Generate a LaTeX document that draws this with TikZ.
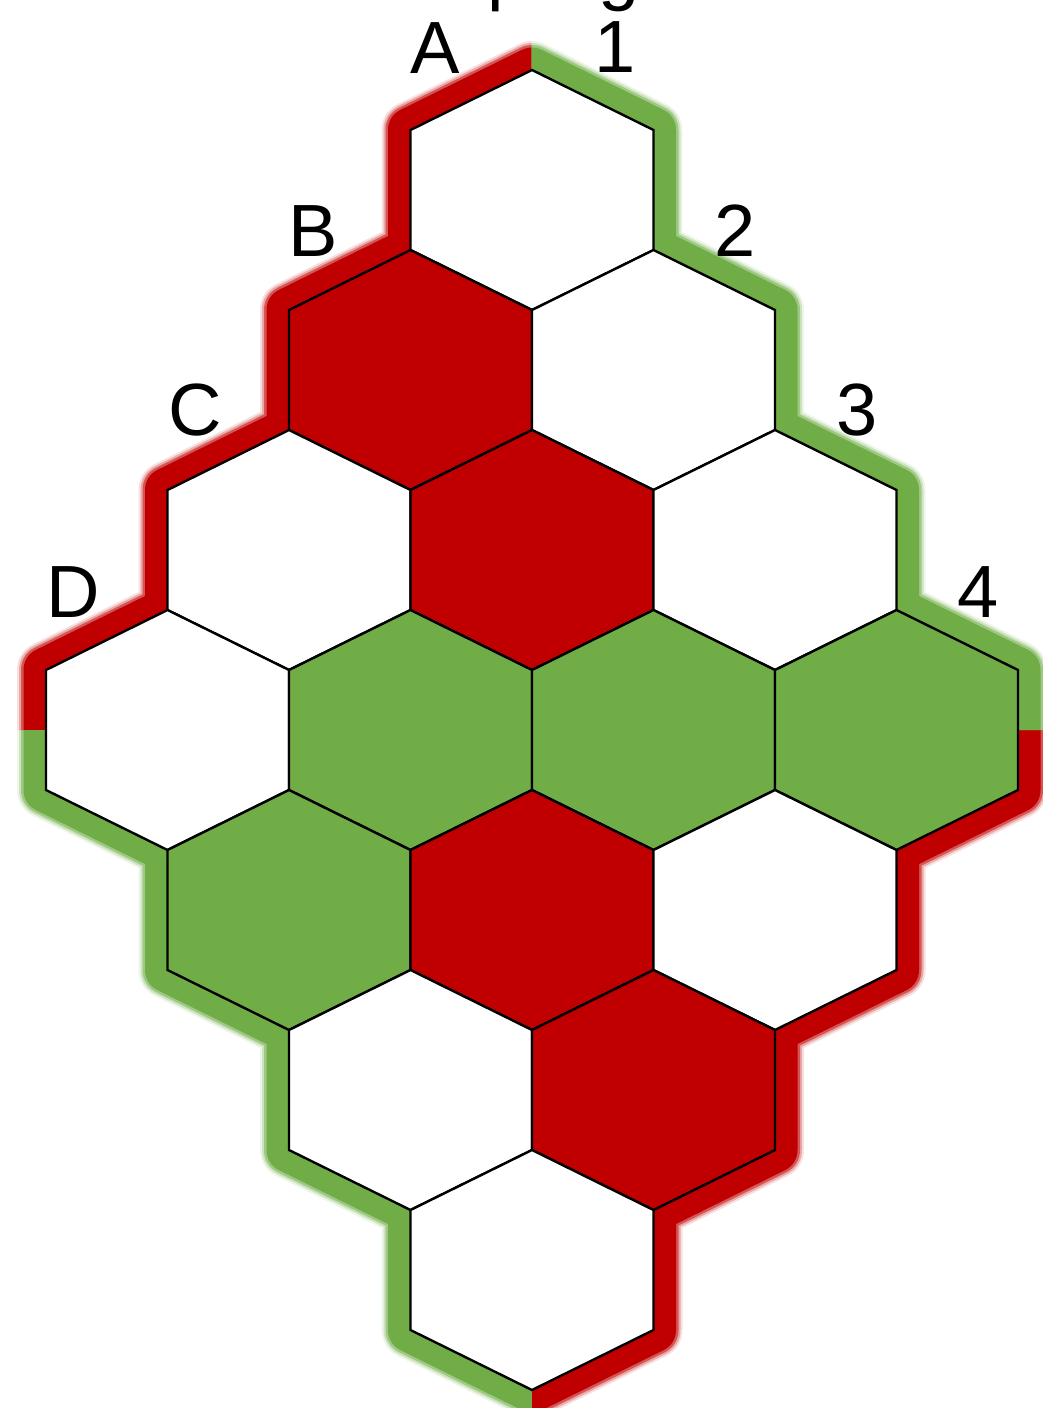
\documentclass[tikz,border=0pt]{standalone}
\usepackage{fontspec}
\setmainfont{Liberation Sans}
\definecolor{hexred}{RGB}{192,0,0}
\definecolor{hexgreen}{RGB}{112,173,71}
\newcommand\boardoutline{(532,70) -- (653.5,130) -- (653.5,250) -- (775,310) -- (775,430) -- (896.5,490) -- (896.5,610) -- (1018,670) -- (1018,790) -- (896.5,850) -- (896.5,970) -- (775,1030) -- (775,1150) -- (653.5,1210) -- (653.5,1330) -- (532,1390) -- (410.5,1330) -- (410.5,1210) -- (289,1150) -- (289,1030) -- (167.5,970) -- (167.5,850) -- (46,790) -- (46,670) -- (167.5,610) -- (167.5,490) -- (289,430) -- (289,310) -- (410.5,250) -- (410.5,130) -- cycle}
\newcommand\bandlayers[1]{%
  \draw[#1, line width=58, opacity=0.12, line join=round] \boardoutline;
  \draw[#1, line width=54, opacity=0.25, line join=round] \boardoutline;
  \draw[#1, line width=50, opacity=0.5, line join=round] \boardoutline;
  \draw[#1, line width=45, line join=round] \boardoutline;}
\newcommand\hexcell[4]{%
  \coordinate (#1) at ({532+(#3-#2)*121.5},{190+(#2+#3)*180});
  \path[hexedge, fill=#4] (#1) ++(0,-120) -- ++(121.5,60) -- ++(0,120) -- ++(-121.5,60) -- ++(-121.5,-60) -- ++(0,-120) -- cycle;}
\begin{document}
\begin{tikzpicture}[x=1pt,y=-1pt,
  hexedge/.style={draw=black, line width=2.4, line join=miter},
  lbl/.style={font=\fontsize{74}{80}\selectfont, inner sep=0pt}]
\useasboundingbox (0,0) rectangle (1043,1408);
\clip (0,0) rectangle (1043,1408);
% cut-off title fragments
\node[lbl, anchor=base west] (titlep) at (487,-3) {p};
\node[lbl, anchor=base west] (titleg) at (598,-3) {g};
% edge bands
\begin{scope}
  \clip (0,0) rectangle (531.5,730) (531.5,730) rectangle (1043,1408);
  \bandlayers{hexred}
\end{scope}
\begin{scope}
  \clip (531.5,0) rectangle (1043,730) (0,730) rectangle (531.5,1408);
  \bandlayers{hexgreen}
\end{scope}
% cells
\hexcell{a1}{0}{0}{white}
\hexcell{b1}{1}{0}{hexred}
\hexcell{a2}{0}{1}{white}
\hexcell{c1}{2}{0}{white}
\hexcell{b2}{1}{1}{hexred}
\hexcell{a3}{0}{2}{white}
\hexcell{d1}{3}{0}{white}
\hexcell{c2}{2}{1}{hexgreen}
\hexcell{b3}{1}{2}{hexgreen}
\hexcell{a4}{0}{3}{hexgreen}
\hexcell{d2}{3}{1}{hexgreen}
\hexcell{c3}{2}{2}{hexred}
\hexcell{b4}{1}{3}{white}
\hexcell{d3}{3}{2}{white}
\hexcell{c4}{2}{3}{hexred}
\hexcell{d4}{3}{3}{white}
% labels
\node[lbl] (lA) at (435,48) {A};
\node[lbl] (lB) at (313,231) {B};
\node[lbl] (lC) at (195,410) {C};
\node[lbl] (lD) at (73,592) {D};
\node[lbl] (l1) at (615,47) {1};
\node[lbl] (l2) at (735,231) {2};
\node[lbl] (l3) at (857,410) {3};
\node[lbl] (l4) at (978,592) {4};
\end{tikzpicture}
\end{document}
